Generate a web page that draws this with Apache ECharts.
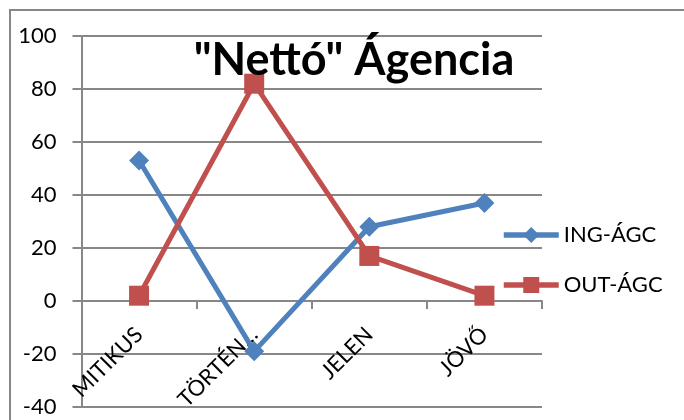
<!DOCTYPE html>
<html>
<head>
<meta charset="utf-8">
<script src="https://cdn.jsdelivr.net/npm/echarts@6/dist/echarts.min.js"></script>
<style>html,body{margin:0;padding:0;background:#fff;}#c{width:684px;height:420px;}</style>
</head>
<body>
<div id="c"></div>
<script>
const titleText = '"Nettó" Ágencia';
const categories = ['MITIKUS', 'TÖRTÉN…', 'JELEN', 'JÖVŐ'];
const ingName = 'ING-ÁGC';
const outName = 'OUT-ÁGC';
const ingValues = [53, -19, 28, 37];
const outValues = [2, 82, 17, 2];
const yTicks = { min: -40, max: 100, interval: 20 };

const gray = '#878787';
const font = 'Lato, "Open Sans", sans-serif';
const chart = echarts.init(document.getElementById('c'), null, { renderer: 'canvas' });
chart.setOption({
  animation: false,
  backgroundColor: '#fff',
  title: {
    text: titleText, left: 349, top: 33, textAlign: 'center',
    textStyle: { fontFamily: font, fontWeight: 'bold', fontSize: 45, color: '#000' }
  },
  graphic: [{
    type: 'rect', silent: true, z: -1,
    shape: { x: 10, y: 10, width: 900, height: 900 },
    style: { fill: 'none', stroke: gray, lineWidth: 2 }
  }],
  grid: { left: 81.5, right: 142, top: 36, bottom: 13, containLabel: false, outerBoundsMode: 'none' },
  legend: {
    orient: 'vertical', left: 496, top: 219, itemGap: 28,
    itemWidth: 55, itemHeight: 20,
    lineStyle: { width: 5.5 },
    textStyle: { fontFamily: font, fontSize: 22, color: '#000' },
    data: [ingName, outName]
  },
  xAxis: [
    {
      type: 'category', data: categories, boundaryGap: true,
      axisLine: { onZero: true, lineStyle: { color: gray, width: 2 } },
      axisTick: { show: true, length: 8, inside: false, lineStyle: { color: gray, width: 2 } },
      axisLabel: { show: false },
      splitLine: { show: false }
    },
    {
      type: 'category', data: categories, boundaryGap: true, position: 'bottom',
      axisLine: { show: false, onZero: false },
      axisTick: { show: false },
      axisLabel: { show: true, rotate: 45, margin: -76, fontFamily: font, fontSize: 22, color: '#000', interval: 0 },
      splitLine: { show: false }
    }
  ],
  yAxis: {
    type: 'value', min: yTicks.min, max: yTicks.max, interval: yTicks.interval,
    axisLine: { show: true, lineStyle: { color: gray, width: 2 } },
    axisTick: { show: true, length: 9, lineStyle: { color: gray, width: 2 } },
    axisLabel: { margin: 25, fontFamily: font, fontSize: 22, color: '#000' },
    splitLine: { show: true, lineStyle: { color: gray, width: 2 } }
  },
  series: [
    {
      name: ingName, type: 'line', data: ingValues, xAxisIndex: 0,
      symbol: 'diamond', symbolSize: 20,
      lineStyle: { color: '#4F81BD', width: 5 },
      itemStyle: { color: '#4F81BD' }
    },
    {
      name: outName, type: 'line', data: outValues, xAxisIndex: 0,
      symbol: 'rect', symbolSize: 20,
      lineStyle: { color: '#C0504D', width: 5 },
      itemStyle: { color: '#C0504D' }
    }
  ]
});
</script>
</body>
</html>
